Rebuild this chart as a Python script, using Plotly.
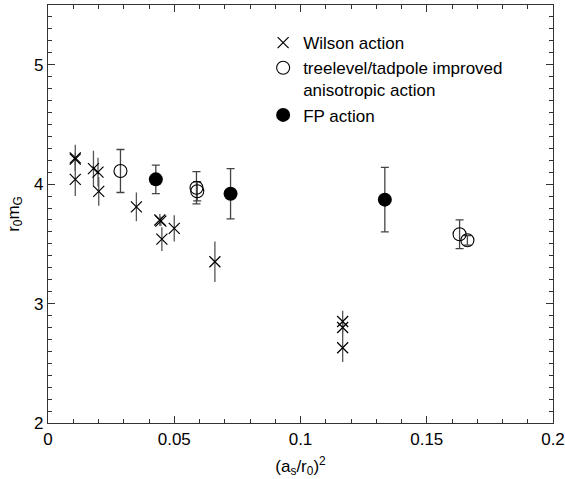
import plotly.graph_objects as go

# Wilson action
wil_x = [0.0108, 0.0108, 0.0108, 0.0180, 0.0198, 0.0201, 0.0350, 0.0443, 0.0447, 0.0451, 0.0500, 0.0661, 0.1167, 0.1167, 0.1167]
wil_y = [4.22, 4.21, 4.04, 4.13, 4.10, 3.94, 3.81, 3.70, 3.69, 3.54, 3.63, 3.35, 2.85, 2.80, 2.63]
wil_e = [0.11, 0.05, 0.14, 0.15, 0.12, 0.12, 0.12, 0.05, 0.04, 0.10, 0.11, 0.17, 0.09, 0.06, 0.12]

# treelevel/tadpole improved anisotropic action
tl_x = [0.0287, 0.0588, 0.0591, 0.1630, 0.1661]
tl_y = [4.11, 3.97, 3.94, 3.58, 3.53]
tl_e = [0.18, 0.135, 0.08, 0.12, 0.04]

# FP action
fp_x = [0.0427, 0.0723, 0.1334]
fp_y = [4.04, 3.92, 3.87]
fp_e = [0.12, 0.21, 0.27]

x_ticks = [0, 0.05, 0.1, 0.15, 0.2]
y_ticks = [2, 3, 4, 5]

FONT = "Arial, Liberation Sans, sans-serif"
FS = 17

fig = go.Figure()
fig.add_trace(go.Scatter(
    x=wil_x, y=wil_y, mode="markers", name="Wilson action",
    marker=dict(symbol="x-thin", size=11, line=dict(width=1.2, color="black"), color="black"),
    error_y=dict(type="data", array=wil_e, visible=True, width=0, thickness=1.3, color="#555555"),
))
fig.add_trace(go.Scatter(
    x=tl_x, y=tl_y, mode="markers", name="treelevel/tadpole improved<br>anisotropic action",
    marker=dict(symbol="circle-open", size=13, line=dict(width=1.1, color="black"), color="black"),
    error_y=dict(type="data", array=tl_e, visible=True, width=4, thickness=1.3, color="#444444"),
))
fig.add_trace(go.Scatter(
    x=fp_x, y=fp_y, mode="markers", name="FP action",
    marker=dict(symbol="circle", size=14, color="black", line=dict(width=0)),
    error_y=dict(type="data", array=fp_e, visible=True, width=4, thickness=1.3, color="#444444"),
))

axis_common = dict(
    showline=True, linecolor="#333333", linewidth=1.2, mirror="allticks",
    ticks="inside", ticklen=7, tickcolor="#333333", showgrid=False, zeroline=False,
    tickfont=dict(family=FONT, size=FS, color="black"), automargin=False,
)

fig.update_xaxes(
    range=[0, 0.2], tickvals=x_ticks, ticktext=[str(v) for v in x_ticks],
    minor=dict(dtick=0.01, tick0=0, ticks="inside", ticklen=4, tickcolor="#333333", showgrid=False),
    title=dict(text="(a<sub>s</sub>/r<sub>0</sub>)<sup>2</sup>", font=dict(family=FONT, size=FS, color="black"), standoff=12),
    **axis_common,
)
fig.update_yaxes(
    range=[2, 5.5], tickvals=y_ticks, ticktext=[str(v) for v in y_ticks],
    minor=dict(dtick=0.1, tick0=2, ticks="inside", ticklen=4, tickcolor="#333333", showgrid=False),
    title=dict(text="r<sub>0</sub>m<sub>G</sub>", font=dict(family=FONT, size=FS, color="black"), standoff=10),
    **axis_common,
)

fig.update_layout(
    width=565, height=479,
    margin=dict(l=48, r=12, t=5, b=56, autoexpand=False),
    paper_bgcolor="white", plot_bgcolor="white",
    font=dict(family=FONT, size=FS, color="black"),
    legend=dict(x=0.426, y=0.952, xanchor="left", yanchor="top",
                bgcolor="rgba(0,0,0,0)", font=dict(family=FONT, size=FS, color="black"),
                valign="top", itemwidth=30, tracegroupgap=0),
    showlegend=True,
)

fig.write_html("out.html", config={"displayModeBar": False},
               post_script="document.body.style.margin='0';")
